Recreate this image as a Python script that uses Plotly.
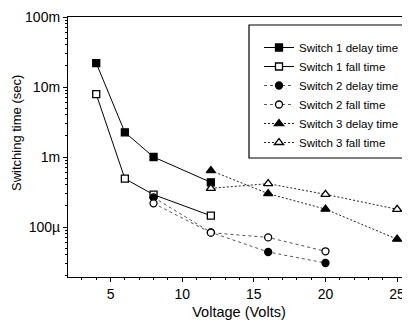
import plotly.graph_objects as go

# ---- data ----
voltage_s1 = [4, 6, 8, 12]
s1_delay = [22e-3, 2.25e-3, 1.0e-3, 0.435e-3]
s1_fall = [7.9e-3, 0.49e-3, 0.29e-3, 0.145e-3]

voltage_s2 = [8, 12, 16, 20]
s2_delay = [0.265e-3, 0.084e-3, 44e-6, 30.6e-6]
s2_fall = [0.218e-3, 0.083e-3, 71e-6, 45e-6]

voltage_s3 = [12, 16, 20, 25]
s3_delay = [0.64e-3, 0.30e-3, 0.18e-3, 67e-6]
s3_fall = [0.357e-3, 0.416e-3, 0.293e-3, 0.179e-3]

y_tickvals = [1e-4, 1e-3, 1e-2, 1e-1]
y_ticktext = ["100µ", "1m", "10m", "100m"]
x_tickvals = [5, 10, 15, 20, 25]

FONT = "Liberation Sans, Arial, sans-serif"

series = [
    ("Switch 1 delay time", voltage_s1, s1_delay, "square", "black", "solid", "#000000"),
    ("Switch 1 fall time", voltage_s1, s1_fall, "square-open", "white", "solid", "#000000"),
    ("Switch 2 delay time", voltage_s2, s2_delay, "circle", "black", "dot", "#555555"),
    ("Switch 2 fall time", voltage_s2, s2_fall, "circle-open", "white", "dot", "#555555"),
    ("Switch 3 delay time", voltage_s3, s3_delay, "triangle-up", "black", "2px,2px", "#222222"),
    ("Switch 3 fall time", voltage_s3, s3_fall, "triangle-up-open", "white", "2px,2px", "#222222"),
]

fig = go.Figure()
for name, xs, ys, sym, fill, dash, lc in series:
    msize = 8 if "triangle" in sym else 7
    fig.add_trace(go.Scatter(
        x=xs, y=ys, name=name, mode="lines+markers",
        line=dict(color=lc, width=1, dash=dash),
        marker=dict(symbol=sym.replace("-open", ""), size=msize, color=fill,
                    line=dict(color="black", width=1.3)),
    ))

# plot-area edges in screen pixels; page body has an 8px default margin
OFF = 8
L, R, T, B = 68, 410, 17, 277
PW, PH = R - L, B - T


def px_x(p):
    return (p - L) / PW


def px_y(p):
    return (B - p) / PH


fig.update_layout(
    width=410, height=331,
    margin=dict(l=L - OFF, r=410 - (R - OFF), t=T - OFF, b=331 - (B - OFF), autoexpand=False),
    paper_bgcolor="white", plot_bgcolor="white",
    font=dict(family=FONT, size=13, color="black"),
    showlegend=True,
    legend=dict(
        x=px_x(259), y=px_y(33), xanchor="left", yanchor="top",
        bgcolor="rgba(0,0,0,0)", borderwidth=0,
        font=dict(family=FONT, size=11.5, color="black"),
        itemwidth=30,
    ),
    xaxis=dict(
        range=[2.03, 25.9], tickvals=x_tickvals, automargin=False,
        showline=True, linecolor="black", linewidth=1.2, mirror=True,
        ticks="outside", ticklen=4, tickcolor="black",
        minor=dict(ticks="outside", ticklen=2, dtick=1, tickcolor="black"),
        showgrid=False, zeroline=False,
        title=dict(text="Voltage (Volts)", font=dict(size=14.5), standoff=5),
        tickfont=dict(size=14),
    ),
    yaxis=dict(
        type="log", range=[-4.714, -1], automargin=False,
        tickvals=y_tickvals, ticktext=y_ticktext,
        showline=True, linecolor="black", linewidth=1.2,
        ticks="outside", ticklen=4, tickcolor="black",
        minor=dict(ticks="outside", ticklen=2, dtick="D1", tickcolor="black"),
        showgrid=False, zeroline=False,
        tickfont=dict(size=14),
    ),
    shapes=[dict(type="rect", xref="paper", yref="paper",
                 x0=px_x(249), x1=1.05,
                 y0=px_y(158), y1=px_y(25),
                 line=dict(color="black", width=1.2), fillcolor="rgba(0,0,0,0)")],
    annotations=[dict(text="Switching time (sec)", textangle=-90,
                      xref="paper", yref="paper",
                      x=px_x(17), y=px_y(133),
                      xanchor="center", yanchor="middle", showarrow=False,
                      font=dict(size=13))],
)

fig.write_html("out.html")
